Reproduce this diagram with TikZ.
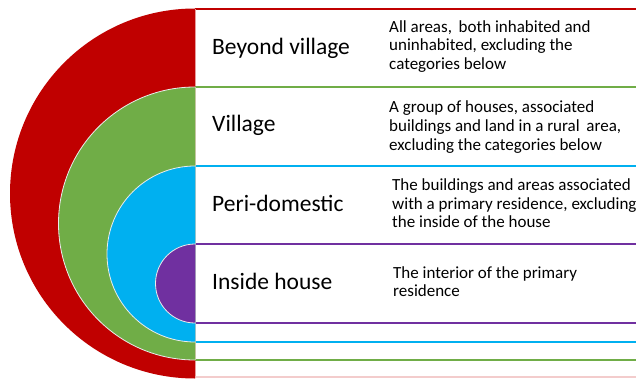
\documentclass[tikz,border=0pt]{standalone}
\usepackage{fontspec}
\setmainfont{Carlito}
\definecolor{cred}{HTML}{C00000}
\definecolor{cgreen}{HTML}{70AD47}
\definecolor{cblue}{HTML}{00B0F0}
\definecolor{cpurple}{HTML}{7030A0}
\tikzset{
  title/.style={font=\fontsize{23.5}{27}\selectfont, inner sep=0pt, anchor=base west},
  desc/.style={font=\fontsize{17}{18.5}\selectfont, inner sep=0pt, anchor=base west, align=left},
  band/.style={line width=1.4pt},
  rim/.style={draw=white!92!black, line width=0.8pt}
}
\begin{document}
\begin{tikzpicture}[x=1pt,y=1pt]
\useasboundingbox (0,0) rectangle (636,378);
\fill[white] (0,0) rectangle (636,378);
% bands (top line, faint left edge, bottom line)
\draw[band, cred] (636,369) -- (195,369);
\draw[line width=1pt, cred!30] (195,369) -- (195,1);
\draw[band, cred!20] (195,1) -- (636,1);
\draw[band, cgreen] (636,291) -- (195,291);
\draw[band, cgreen] (195,18) -- (636,18);
\draw[band, cblue] (636,212) -- (195,212);
\draw[band, cblue] (195,36) -- (636,36);
\draw[band, cpurple] (636,134) -- (195,134);
\draw[band, cpurple] (195,55) -- (636,55);
\draw[line width=1pt, cgreen!30] (195,291) -- (195,18);
\draw[line width=1pt, cblue!30] (195,212) -- (195,36);
\draw[line width=1pt, cpurple!30] (195,134) -- (195,55);
% semicircles
\fill[cred] (195,369.5) arc[start angle=90,end angle=270,radius=185] -- cycle;
\fill[cgreen] (195,291) arc[start angle=90,end angle=270,radius=136.5] -- cycle;
\draw[rim] (195,291) arc[start angle=90,end angle=270,radius=136.5];
\fill[cblue] (195,212) arc[start angle=90,end angle=270,radius=88] -- cycle;
\draw[rim] (195,212) arc[start angle=90,end angle=270,radius=88];
\fill[cpurple] (195,134) arc[start angle=90,end angle=270,radius=39.5] -- cycle;
\draw[rim] (195,134) arc[start angle=90,end angle=270,radius=39.5];
% titles
\node[title] (t1) at (212,323.7) {Beyond village};
\node[title] (t2) at (212,246.3) {Village};
\node[title] (t3) at (212,166.3) {Peri-domestic};
\node[title] (t4) at (212,88.7) {Inside house};
% descriptions (anchor = baseline of last line)
\node[desc] (d1) at (389,308.7) {All areas,\, both inhabited and\\uninhabited, excluding the\\categories below};
\node[desc] (d2) at (389,228) {A group of houses, associated\\buildings and land in a rural\, area,\\excluding the categories below};
\node[desc] (d3) at (392,150.3) {The buildings and areas associated\\with a primary residence, excluding\\the inside of the house};
\node[desc] (d4) at (393,81.3) {The interior of the primary\\residence};
\end{tikzpicture}
\end{document}
